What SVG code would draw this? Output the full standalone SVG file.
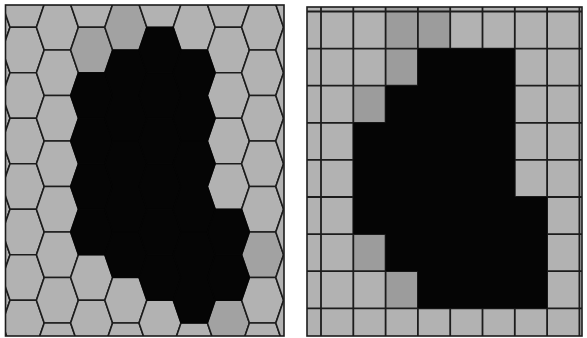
<svg xmlns="http://www.w3.org/2000/svg" xmlns:xlink="http://www.w3.org/1999/xlink" width="587" height="338" viewBox="0 0 587 338">
<style>
.g{fill:#b2b2b2;stroke:#1c1c1c;stroke-width:1.6}
.d{fill:#a2a2a2;stroke:#1c1c1c;stroke-width:1.6}
.k{fill:#050505;stroke:#050505;stroke-width:1.2}
.ln{stroke:#1c1c1c;stroke-width:1.8;fill:none}
.fr{fill:none;stroke:#1c1c1c;stroke-width:1.6}
.dc{fill:#9c9c9c}
</style>
<defs>
<polygon id="hx" points="-21,0 -13.2,-22.75 13.2,-22.75 21,0 13.2,22.75 -13.2,22.75"/>
<clipPath id="cl"><rect x="5.5" y="5" width="278.5" height="331"/></clipPath>
<clipPath id="cr"><rect x="307" y="7" width="275" height="329"/></clipPath>
</defs>
<rect width="587" height="338" fill="#ffffff"/>
<g id="hexpanel" clip-path="url(#cl)">
<rect x="5.5" y="5" width="278.5" height="331" fill="#b2b2b2"/>
<use href="#hx" x="-11" y="27.25" class="g"/><use href="#hx" x="-11" y="72.75" class="g"/><use href="#hx" x="-11" y="118.25" class="g"/><use href="#hx" x="-11" y="163.75" class="g"/><use href="#hx" x="-11" y="209.25" class="g"/><use href="#hx" x="-11" y="254.75" class="g"/><use href="#hx" x="-11" y="300.25" class="g"/><use href="#hx" x="-11" y="345.75" class="g"/>
<use href="#hx" x="23.2" y="4.5" class="g"/><use href="#hx" x="23.2" y="50" class="g"/><use href="#hx" x="23.2" y="95.5" class="g"/><use href="#hx" x="23.2" y="141" class="g"/><use href="#hx" x="23.2" y="186.5" class="g"/><use href="#hx" x="23.2" y="232" class="g"/><use href="#hx" x="23.2" y="277.5" class="g"/><use href="#hx" x="23.2" y="323" class="g"/>
<use href="#hx" x="57.4" y="27.25" class="g"/><use href="#hx" x="57.4" y="72.75" class="g"/><use href="#hx" x="57.4" y="118.25" class="g"/><use href="#hx" x="57.4" y="163.75" class="g"/><use href="#hx" x="57.4" y="209.25" class="g"/><use href="#hx" x="57.4" y="254.75" class="g"/><use href="#hx" x="57.4" y="300.25" class="g"/><use href="#hx" x="57.4" y="345.75" class="g"/>
<use href="#hx" x="91.6" y="4.5" class="g"/><use href="#hx" x="91.6" y="50" class="d"/><use href="#hx" x="91.6" y="277.5" class="g"/><use href="#hx" x="91.6" y="323" class="g"/>
<use href="#hx" x="125.8" y="27.25" class="d"/><use href="#hx" x="125.8" y="300.25" class="g"/><use href="#hx" x="125.8" y="345.75" class="g"/>
<use href="#hx" x="160" y="4.5" class="g"/><use href="#hx" x="160" y="323" class="g"/>
<use href="#hx" x="194.2" y="27.25" class="g"/><use href="#hx" x="194.2" y="345.75" class="g"/>
<use href="#hx" x="228.4" y="4.5" class="g"/><use href="#hx" x="228.4" y="50" class="g"/><use href="#hx" x="228.4" y="95.5" class="g"/><use href="#hx" x="228.4" y="141" class="g"/><use href="#hx" x="228.4" y="186.5" class="g"/><use href="#hx" x="228.4" y="323" class="d"/>
<use href="#hx" x="262.6" y="27.25" class="g"/><use href="#hx" x="262.6" y="72.75" class="g"/><use href="#hx" x="262.6" y="118.25" class="g"/><use href="#hx" x="262.6" y="163.75" class="g"/><use href="#hx" x="262.6" y="209.25" class="g"/><use href="#hx" x="262.6" y="254.75" class="d"/><use href="#hx" x="262.6" y="300.25" class="g"/><use href="#hx" x="262.6" y="345.75" class="g"/>
<use href="#hx" x="296.8" y="4.5" class="g"/><use href="#hx" x="296.8" y="50" class="g"/><use href="#hx" x="296.8" y="95.5" class="g"/><use href="#hx" x="296.8" y="141" class="g"/><use href="#hx" x="296.8" y="186.5" class="g"/><use href="#hx" x="296.8" y="232" class="g"/><use href="#hx" x="296.8" y="277.5" class="g"/><use href="#hx" x="296.8" y="323" class="g"/>
<use href="#hx" x="91.6" y="95.5" class="k"/><use href="#hx" x="91.6" y="141" class="k"/><use href="#hx" x="91.6" y="186.5" class="k"/><use href="#hx" x="91.6" y="232" class="k"/>
<use href="#hx" x="125.8" y="72.75" class="k"/><use href="#hx" x="125.8" y="118.25" class="k"/><use href="#hx" x="125.8" y="163.75" class="k"/><use href="#hx" x="125.8" y="209.25" class="k"/><use href="#hx" x="125.8" y="254.75" class="k"/>
<use href="#hx" x="160" y="50" class="k"/><use href="#hx" x="160" y="95.5" class="k"/><use href="#hx" x="160" y="141" class="k"/><use href="#hx" x="160" y="186.5" class="k"/><use href="#hx" x="160" y="232" class="k"/><use href="#hx" x="160" y="277.5" class="k"/>
<use href="#hx" x="194.2" y="72.75" class="k"/><use href="#hx" x="194.2" y="118.25" class="k"/><use href="#hx" x="194.2" y="163.75" class="k"/><use href="#hx" x="194.2" y="209.25" class="k"/><use href="#hx" x="194.2" y="254.75" class="k"/><use href="#hx" x="194.2" y="300.25" class="k"/>
<use href="#hx" x="228.4" y="232" class="k"/><use href="#hx" x="228.4" y="277.5" class="k"/>
</g>
<rect class="fr" x="5.5" y="5" width="278.5" height="331"/>
<g id="squarepanel" clip-path="url(#cr)">
<rect x="307" y="7" width="275" height="329" fill="#b2b2b2"/>
<rect class="dc" x="385.6" y="7" width="64.6" height="41.6"/>
<rect class="dc" x="385.6" y="48.6" width="32.3" height="37.1"/>
<rect class="dc" x="353.3" y="85.7" width="32.3" height="37.1"/>
<rect class="dc" x="353.3" y="234.1" width="32.3" height="37.1"/>
<rect class="dc" x="385.6" y="271.2" width="32.3" height="37.1"/>
<g class="ln">
<path d="M321 7V336M353.3 7V336M385.6 7V336M417.9 7V336M450.2 7V336M482.5 7V336M514.8 7V336M547.1 7V336M579.4 7V336"/>
<path d="M307 11.5H583M307 48.6H583M307 85.7H583M307 122.8H583M307 159.9H583M307 197H583M307 234.1H583M307 271.2H583M307 308.3H583"/>
</g>
<polygon fill="#050505" points="417.9,48.6 514.8,48.6 514.8,197 547.1,197 547.1,308.3 417.9,308.3 417.9,271.2 385.6,271.2 385.6,234.1 353.3,234.1 353.3,122.8 385.6,122.8 385.6,85.7 417.9,85.7"/>
</g>
<rect class="fr" x="307" y="7" width="275" height="329"/>
</svg>
